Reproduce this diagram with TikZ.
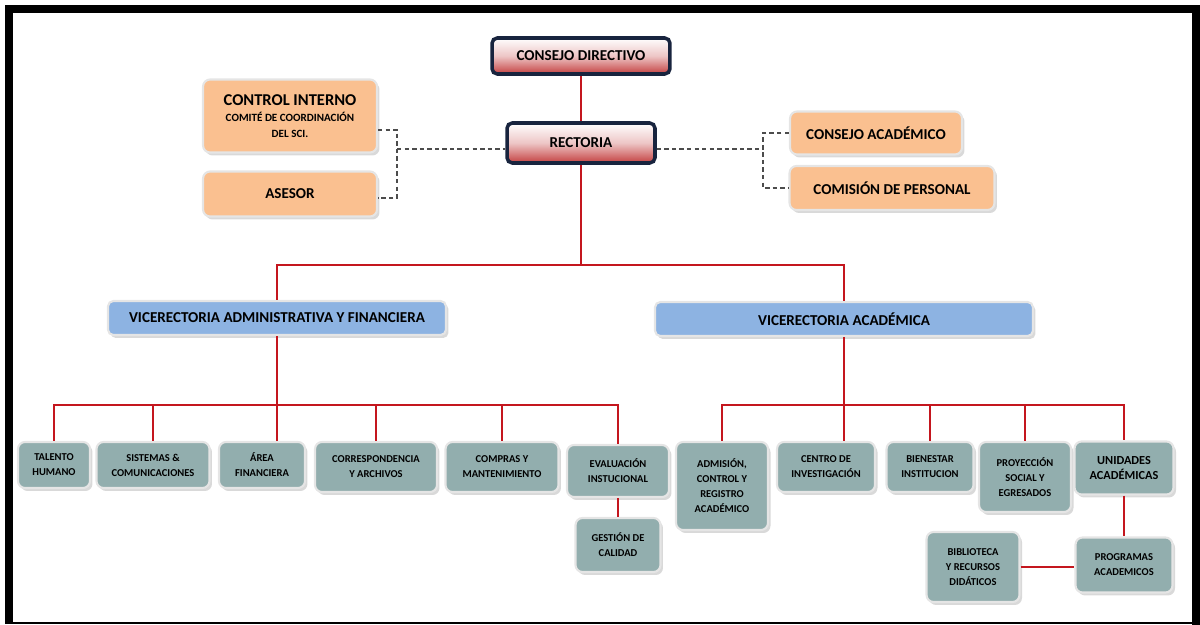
\documentclass[tikz,border=0pt]{standalone}
\usepackage{fontspec}
\setmainfont{Carlito}
\usetikzlibrary{shadows}

\definecolor{navy}{RGB}{24,36,62}
\definecolor{boxred}{RGB}{196,64,64}
\definecolor{peach}{RGB}{250,192,144}
\definecolor{skyblue}{RGB}{141,179,226}
\definecolor{slate}{RGB}{146,174,174}
\definecolor{linered}{RGB}{196,22,30}

\begin{document}
\begin{tikzpicture}[x=0.02cm, y=-0.02cm,
    topbox/.style={draw=navy, line width=2pt, rounded corners=3pt,
        top color=white, bottom color=boxred, middle color=boxred!30,
        inner sep=0pt, font=\fontsize{8.6}{10}\selectfont\bfseries},
    sidebox/.style={fill=peach, draw=gray!20, line width=1.2pt, rounded corners=4pt,
        drop shadow={opacity=0.3, shadow xshift=0.05cm, shadow yshift=-0.06cm},
        inner sep=0pt, align=center, font=\fontsize{8.6}{10}\selectfont\bfseries},
    vicebox/.style={fill=skyblue, draw=gray!20, line width=1.2pt, rounded corners=3pt,
        drop shadow={opacity=0.3, shadow xshift=0.05cm, shadow yshift=-0.06cm},
        inner sep=0pt, font=\fontsize{8.6}{10}\selectfont\bfseries},
    unitbox/.style={fill=slate, draw=gray!20, line width=1.2pt, rounded corners=4pt,
        drop shadow={opacity=0.3, shadow xshift=0.05cm, shadow yshift=-0.06cm},
        inner sep=0pt, align=center, font=\fontsize{6}{8.5}\selectfont\bfseries},
    redline/.style={draw=linered, line width=1.4pt},
    dashline/.style={draw=gray!60!black, line width=0.9pt, dash pattern=on 2.5pt off 1.8pt}]

    \useasboundingbox (0,0) rectangle (1200,625);

    % frame
    \fill (5,5) rectangle (1200,13);
    \fill (5,5) rectangle (13,624);
    \fill (1192,5) rectangle (1200,625);
    \fill (5,622) rectangle (1200,624);

    % top of the chart
    \node[topbox, minimum width=3.56cm, minimum height=0.72cm] (consejo) at (581,56) {CONSEJO DIRECTIVO};
    \node[topbox, minimum width=2.96cm, minimum height=0.80cm] (rectoria) at (581,143) {RECTORIA};

    \node[sidebox, minimum width=3.48cm, minimum height=1.46cm] (control) at (290,116)
        {{\fontsize{9.4}{11}\selectfont CONTROL INTERNO}\\[-1pt]
         {\fontsize{6.3}{9.5}\selectfont COMITÉ DE COORDINACIÓN}\\[-1pt]
         {\fontsize{6.3}{9.5}\selectfont DEL SCI.}};
    \node[sidebox, minimum width=3.48cm, minimum height=0.90cm] (asesor) at (290,194) {ASESOR};
    \node[sidebox, minimum width=3.44cm, minimum height=0.86cm] (cacad) at (876,133) {CONSEJO ACADÉMICO};
    \node[sidebox, minimum width=4.10cm, minimum height=0.88cm] (comision) at (892,188) {COMISIÓN DE PERSONAL};

    % vicerrectorias
    \node[vicebox, minimum width=6.76cm, minimum height=0.68cm] (vadm) at (277,318) {VICERECTORIA ADMINISTRATIVA Y FINANCIERA};
    \node[vicebox, minimum width=7.56cm, minimum height=0.68cm] (vacad) at (844,319) {VICERECTORIA ACADÉMICA};

    % administrativa
    \node[unitbox, minimum width=1.44cm, minimum height=0.92cm] (talento) at (54,465) {TALENTO\\HUMANO};
    \node[unitbox, minimum width=2.26cm, minimum height=0.92cm] (sistemas) at (153,465) {SISTEMAS \&\\COMUNICACIONES};
    \node[unitbox, minimum width=1.72cm, minimum height=0.92cm] (area) at (262,465) {ÁREA\\FINANCIERA};
    \node[unitbox, minimum width=2.44cm, minimum height=1.00cm] (corresp) at (376,467) {CORRESPONDENCIA\\Y ARCHIVOS};
    \node[unitbox, minimum width=2.26cm, minimum height=1.00cm] (compras) at (502,467) {COMPRAS Y\\MANTENIMIENTO};
    \node[unitbox, minimum width=2.04cm, minimum height=1.04cm] (evaluacion) at (618,471) {EVALUACIÓN\\INSTUCIONAL};
    \node[unitbox, minimum width=1.70cm, minimum height=1.08cm] (gestion) at (618,545) {GESTIÓN DE\\CALIDAD};

    % academica
    \node[unitbox, minimum width=1.84cm, minimum height=1.76cm] (admision) at (722,486) {ADMISIÓN,\\CONTROL Y\\REGISTRO\\ACADÉMICO};
    \node[unitbox, minimum width=1.96cm, minimum height=1.00cm] (centro) at (826,467) {CENTRO DE\\INVESTIGACIÓN};
    \node[unitbox, minimum width=1.74cm, minimum height=1.00cm] (bienestar) at (930,467) {BIENESTAR\\INSTITUCION};
    \node[unitbox, minimum width=1.84cm, minimum height=1.40cm] (proyeccion) at (1025,477) {PROYECCIÓN\\SOCIAL Y\\EGRESADOS};
    \node[unitbox, minimum width=1.98cm, minimum height=1.06cm] (unidades) at (1124,468) {\fontsize{7}{9.5}\selectfont UNIDADES\\\fontsize{7}{9.5}\selectfont ACADÉMICAS};
    \node[unitbox, minimum width=1.94cm, minimum height=1.10cm] (programas) at (1124,565) {PROGRAMAS\\ACADEMICOS};
    \node[unitbox, minimum width=1.86cm, minimum height=1.40cm] (biblioteca) at (973,567) {BIBLIOTECA\\Y RECURSOS\\DIDÁTICOS};

    % red connectors
    \coordinate (topbus) at (581,265);
    \coordinate (admbus) at (277,405);
    \coordinate (acabus) at (844,405);

    \draw[redline] (consejo) -- (rectoria);
    \draw[redline] (rectoria) -- (topbus);
    \draw[redline] (vadm.north) |- (topbus) -| (vacad.north);

    \draw[redline] (vadm) -- (vadm.south |- area.north);
    \draw[redline] (talento.north) |- (admbus) -| (evaluacion.north);
    \draw[redline] (sistemas.north) -- (sistemas.north |- admbus);
    \draw[redline] (corresp.north) -- (corresp.north |- admbus);
    \draw[redline] (compras.north) -- (compras.north |- admbus);
    \draw[redline] (evaluacion) -- (gestion);

    \draw[redline] (vacad) -- (vacad.south |- centro.north);
    \draw[redline] (admision.north) |- (acabus) -| (unidades.north);
    \draw[redline] (bienestar.north) -- (bienestar.north |- acabus);
    \draw[redline] (proyeccion.north) -- (proyeccion.north |- acabus);
    \draw[redline] (unidades) -- (programas);
    \draw[redline] (biblioteca.east) -- (biblioteca.east -| programas.west);

    % dashed links of the staff boxes
    \coordinate (ljoin) at (397,149);
    \coordinate (rjoin) at (763,149);
    \draw[dashline] ([yshift=-0.28cm]control.east) -| (ljoin) |- ([yshift=-0.08cm]asesor.east);
    \draw[dashline] (ljoin) -- (ljoin -| rectoria.west);
    \draw[dashline] (rjoin -| rectoria.east) -- (rjoin);
    \draw[dashline] (cacad.west) -| (rjoin) |- (comision.west);
\end{tikzpicture}
\end{document}
